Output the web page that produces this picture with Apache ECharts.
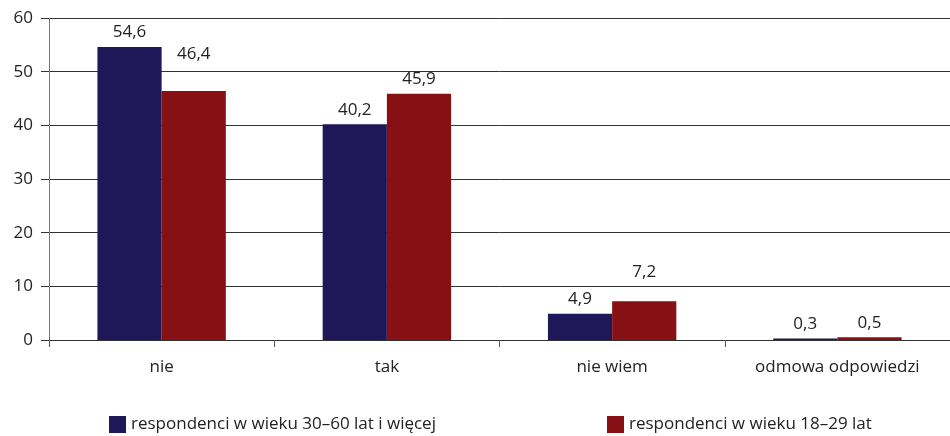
<!DOCTYPE html>
<html>
<head>
<meta charset="utf-8">
<script src="https://cdn.jsdelivr.net/npm/echarts@6/dist/echarts.min.js"></script>
<style>
  html, body { margin: 0; padding: 0; background: #fff; }
  #chart { width: 950px; height: 436px; }
</style>
</head>
<body>
<div id="chart"></div>
<script>
// Answer categories
var categories = ['nie', 'tak', 'nie wiem', 'odmowa odpowiedzi'];
// Series values (%)
var older = [54.6, 40.2, 4.9, 0.3];
var younger = [46.4, 45.9, 7.2, 0.5];
var seriesNames = ['respondenci w wieku 30–60 lat i więcej', 'respondenci w wieku 18–29 lat'];
var yTicks = [0, 10, 20, 30, 40, 50, 60];

var FONT = '"Open Sans", "Noto Sans", sans-serif';
var FS = 17;
var TEXT = '#222';
var BLUE = '#1e1858';
var RED = '#861014';

function fmt(p) { return String(p.value).replace('.', ','); }

// Some value labels of the second series sit higher to stay clear of neighbours
var raisedLabels = { 0: -22, 2: -15 };
function withLabelLift(values, lifts) {
  return values.map(function (v, i) {
    if (lifts[i] === undefined) return v;
    return { value: v, label: { offset: [0, lifts[i]] } };
  });
}

var labelStyle = {
  show: true, position: 'top', distance: 6, formatter: fmt,
  fontFamily: FONT, fontSize: FS, color: TEXT
};

var chart = echarts.init(document.getElementById('chart'), null, { renderer: 'canvas' });
chart.setOption({
  animation: false,
  backgroundColor: '#fff',
  textStyle: { fontFamily: FONT },
  grid: { left: 49, right: -3, top: 18, bottom: 96, containLabel: false },
  legend: [
    {
      data: [seriesNames[0]], left: 104, top: 411,
      itemWidth: 17, itemHeight: 17, icon: 'rect',
      itemStyle: { borderWidth: 0 },
      textStyle: { fontFamily: FONT, fontSize: FS, color: TEXT }
    },
    {
      data: [seriesNames[1]], left: 602, top: 411,
      itemWidth: 17, itemHeight: 17, icon: 'rect',
      itemStyle: { borderWidth: 0 },
      textStyle: { fontFamily: FONT, fontSize: FS, color: TEXT }
    }
  ],
  xAxis: {
    type: 'category',
    data: categories,
    axisLine: { lineStyle: { color: '#333', width: 1 } },
    axisTick: { show: true, length: 7, lineStyle: { color: '#555' } },
    axisLabel: { fontFamily: FONT, fontSize: FS, color: TEXT, margin: 19 }
  },
  yAxis: {
    type: 'value',
    min: yTicks[0], max: yTicks[yTicks.length - 1], interval: 10,
    axisLine: { show: true, lineStyle: { color: '#777', width: 1 } },
    axisTick: { show: true, length: 8, lineStyle: { color: '#333' } },
    axisLabel: { fontFamily: FONT, fontSize: FS, color: TEXT, margin: 16 },
    splitLine: { show: true, lineStyle: { color: '#333', width: 1 } }
  },
  series: [
    {
      name: seriesNames[0], type: 'bar', data: older,
      barGap: '0%', barCategoryGap: '43%',
      itemStyle: { color: BLUE },
      label: labelStyle
    },
    {
      name: seriesNames[1], type: 'bar', data: withLabelLift(younger, raisedLabels),
      itemStyle: { color: RED },
      label: labelStyle
    }
  ]
});
</script>
</body>
</html>
